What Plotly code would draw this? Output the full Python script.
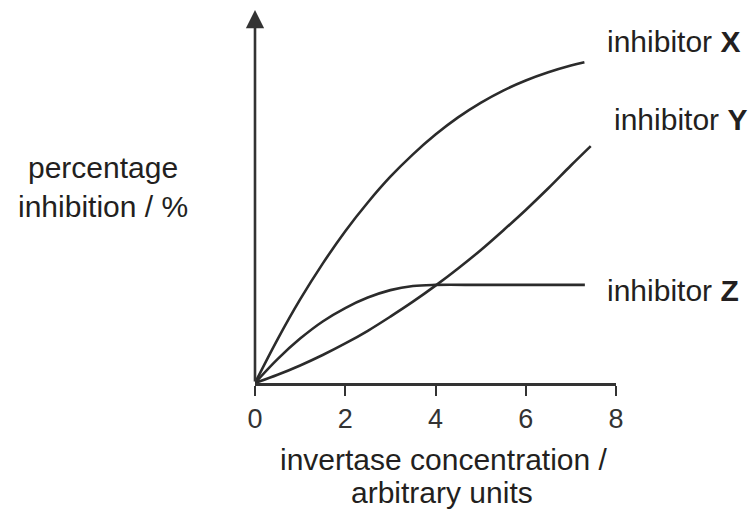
import plotly.graph_objects as go

# ---- data ----
x_X = [0, 0.5, 1, 1.5, 2, 2.5, 3, 3.5, 4, 4.5, 5, 5.5, 6, 6.5, 7, 7.3]
y_X = [0, 11.7, 22.4, 32.0, 40.7, 48.4, 55.3, 61.3, 66.6, 71.2, 75.1, 78.4, 81.1, 83.3, 85.1, 86.0]

x_Y = [0, 0.5, 1, 1.5, 2, 2.5, 3, 3.5, 4, 4.5, 5, 5.5, 6, 6.5, 7, 7.44]
y_Y = [0, 2.2, 4.7, 7.5, 10.6, 14.0, 17.8, 21.8, 26.1, 30.7, 35.6, 40.9, 46.4, 52.2, 58.3, 63.5]

x_Z = [0, 0.5, 1, 1.5, 2, 2.5, 3, 3.5, 4, 5, 6, 7.31]
y_Z = [0, 6.4, 11.9, 16.5, 20.1, 22.9, 24.9, 26.0, 26.3, 26.3, 26.3, 26.3]

x_ticks = [0, 2, 4, 6, 8]
x_ticklabels = ["0", "2", "4", "6", "8"]
series_labels = ["inhibitor <b>X</b>", "inhibitor <b>Y</b>", "inhibitor <b>Z</b>"]
y_title_lines = ["percentage", "inhibition / %"]
x_title_lines = ["invertase concentration /", "arbitrary units"]

# ---- layout geometry ----
W, H = 754, 510
L, R, T, B = 255, 616, 10, 383
INK = "#231f20"
LINE = "#2b2b2b"
FONT = "Liberation Sans, Arial, Helvetica, sans-serif"


def px_x(px):
    return (px - L) / (R - L)


def px_y(py):
    return (B - py) / (B - T)


fig = go.Figure()
for xs, ys in [(x_X, y_X), (x_Y, y_Y), (x_Z, y_Z)]:
    fig.add_trace(go.Scatter(
        x=xs, y=ys, mode="lines",
        line=dict(color=LINE, width=2.6, shape="spline", smoothing=1.0),
        cliponaxis=False, hoverinfo="skip", showlegend=False,
    ))

annotations = []
# y-axis arrow
annotations.append(dict(
    x=0, y=100, ax=0, ay=0, xref="x", yref="y", axref="x", ayref="y",
    text="", showarrow=True, arrowhead=2, arrowsize=1.4, arrowwidth=2.6,
    arrowcolor="#333333", standoff=0,
))

label_pos = [(605, 42), (611.7, 120), (605, 290)]
for txt, (px, py) in zip(series_labels, label_pos):
    annotations.append(dict(
        x=px_x(px), y=px_y(py), xref="paper", yref="paper",
        xanchor="left", yanchor="middle", text=txt, showarrow=False,
        font=dict(family=FONT, size=30, color=INK),
    ))

for txt, (px, py) in zip(y_title_lines, [(102.5, 168), (102.5, 206)]):
    annotations.append(dict(
        x=px_x(px), y=px_y(py), xref="paper", yref="paper",
        xanchor="center", yanchor="middle", text=txt, showarrow=False,
        font=dict(family=FONT, size=30, color=INK),
    ))

for txt, (px, py) in zip(x_title_lines, [(443.5, 460), (441.7, 492)]):
    annotations.append(dict(
        x=px_x(px), y=px_y(py), xref="paper", yref="paper",
        xanchor="center", yanchor="middle", text=txt, showarrow=False,
        font=dict(family=FONT, size=30, color=INK),
    ))

fig.update_layout(
    width=W, height=H,
    margin=dict(l=L, r=W - R, t=T, b=H - B, pad=0),
    paper_bgcolor="white", plot_bgcolor="white",
    showlegend=False,
    annotations=annotations,
    xaxis=dict(
        range=[0, 8], tickvals=x_ticks, ticktext=x_ticklabels,
        showline=True, linewidth=2.6, linecolor="#333333",
        ticks="outside", ticklen=10, tickwidth=2.4, tickcolor="#333333",
        tickfont=dict(family=FONT, size=27, color="#333333"),
        showgrid=False, zeroline=False, fixedrange=True,
    ),
    yaxis=dict(
        range=[0, 100], showticklabels=False, showline=False, ticks="",
        showgrid=False, zeroline=False, fixedrange=True,
    ),
)

fig.write_html("out.html")
